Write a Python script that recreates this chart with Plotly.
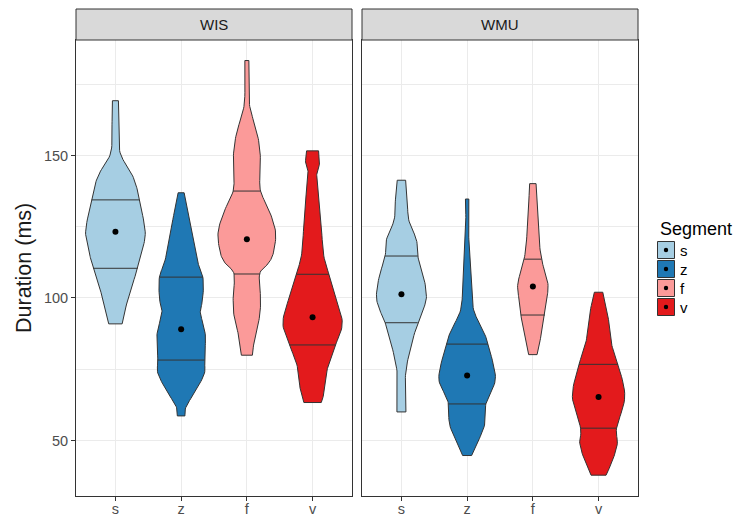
import numpy as np
import plotly.graph_objects as go

segments = ["s", "z", "f", "v"]
seg_colors = ["#A6CEE3", "#1F78B4", "#FB9A99", "#E31A1C"]
facets = ["WIS", "WMU"]

# Violin outlines: duration levels (ms) and relative half-widths
wis_s_y = [169.2, 160.0, 150.9, 143.9, 139.1, 134.4, 123.2, 115.7, 110.4, 99.9, 90.9]
wis_s_w = [3.0, 3.5, 4.7, 15.8, 21.0, 23.8, 29.8, 26.0, 22.2, 12.7, 6.7]
wis_z_y = [136.9, 125.0, 113.3, 107.3, 99.9, 95.2, 91.1, 86.4, 78.2, 73.6, 67.7, 61.9, 58.6]
wis_z_w = [3.0, 9.7, 16.0, 21.7, 21.7, 19.2, 21.7, 24.3, 23.3, 23.3, 15.0, 5.0, 3.8]
wis_f_y = [183.3, 169.5, 163.6, 157.9, 150.8, 143.7, 137.5, 129.8, 122.8, 115.8, 112.2, 108.4, 99.9, 93.4, 86.4, 79.9]
wis_f_w = [2.0, 2.2, 5.5, 10.3, 13.3, 13.2, 13.7, 23.3, 28.8, 26.5, 21.7, 12.8, 13.7, 12.7, 8.0, 5.5]
wis_v_y = [151.6, 147.3, 143.7, 139.1, 128.5, 115.7, 108.3, 99.9, 91.1, 83.5, 76.0, 67.7, 63.3]
wis_v_w = [6.0, 7.0, 4.2, 5.7, 8.3, 10.8, 16.3, 23.7, 29.7, 23.0, 15.3, 12.2, 8.7]

wmu_s_y = [141.3, 134.4, 127.4, 120.4, 114.7, 107.5, 100.5, 95.8, 91.3, 81.8, 73.6, 66.6, 60.0]
wmu_s_w = [4.2, 6.0, 7.3, 15.0, 16.3, 22.2, 25.0, 21.7, 16.3, 8.7, 4.2, 4.5, 4.5]
wmu_z_y = [134.7, 125.0, 115.7, 105.1, 95.8, 88.8, 83.8, 72.4, 66.6, 62.8, 56.0, 50.2, 44.7]
wmu_z_w = [1.7, 1.3, 2.5, 4.2, 6.5, 15.8, 20.8, 28.3, 23.0, 18.7, 17.8, 11.7, 4.5]
wmu_f_y = [140.1, 122.7, 113.6, 105.1, 99.3, 94.0, 86.4, 80.1]
wmu_f_w = [3.2, 5.8, 8.7, 15.0, 13.8, 12.0, 8.0, 4.2]
wmu_v_y = [102.0, 93.4, 84.1, 76.7, 65.4, 54.3, 49.0, 43.2, 37.8]
wmu_v_w = [4.2, 9.5, 12.8, 19.5, 26.2, 18.0, 18.8, 14.2, 7.5]

# Quartiles (25%, 75%) and means per segment
wis_q1 = [110.4, 78.2, 108.4, 83.5]
wis_q3 = [134.4, 107.3, 137.5, 108.3]
wis_mean = [123.2, 89.0, 120.6, 93.2]
wmu_q1 = [91.3, 62.8, 94.0, 54.3]
wmu_q3 = [114.7, 83.8, 113.6, 76.7]
wmu_mean = [101.3, 72.8, 104.0, 65.2]

y_ticks = [50, 100, 150]
y_minor = [75, 125, 175]

profiles = {
    "WIS": [(wis_s_y, wis_s_w), (wis_z_y, wis_z_w), (wis_f_y, wis_f_w), (wis_v_y, wis_v_w)],
    "WMU": [(wmu_s_y, wmu_s_w), (wmu_z_y, wmu_z_w), (wmu_f_y, wmu_f_w), (wmu_v_y, wmu_v_w)],
}
quart = {"WIS": (wis_q1, wis_q3, wis_mean), "WMU": (wmu_q1, wmu_q3, wmu_mean)}

W, H = 738, 517
PX_PER_UNIT = 276 / 4.2
OUTLINE = "#333333"
FONT = "Liberation Sans, Arial, Helvetica, sans-serif"


def catmull(ys, ws, n=10):
    P = np.column_stack([ys, ws]).astype(float)
    ext = np.vstack([P[0], P, P[-1]])
    out = []
    for i in range(1, len(ext) - 2):
        p0, p1, p2, p3 = ext[i - 1], ext[i], ext[i + 1], ext[i + 2]
        for t in np.linspace(0, 1, n, endpoint=False):
            t2, t3 = t * t, t * t * t
            out.append(0.5 * ((2 * p1) + (-p0 + p2) * t + (2 * p0 - 5 * p1 + 4 * p2 - p3) * t2
                              + (-p0 + 3 * p1 - 3 * p2 + p3) * t3))
    out.append(P[-1])
    a = np.array(out)
    return a[:, 0], np.maximum(a[:, 1], 0.5)


fig = go.Figure()
for fi, fac in enumerate(facets):
    xa = "x" if fi == 0 else "x2"
    ya = "y" if fi == 0 else "y2"
    q1s, q3s, means = quart[fac]
    for si, seg in enumerate(segments):
        c = si + 1
        ys, ws = catmull(*profiles[fac][si])
        hw = ws / PX_PER_UNIT
        px = np.concatenate([c + hw, (c - hw)[::-1], [c + hw[0]]])
        py = np.concatenate([ys, ys[::-1], [ys[0]]])
        fig.add_trace(go.Scatter(x=px, y=py, mode="lines", fill="toself", fillcolor=seg_colors[si],
                                 line=dict(color=OUTLINE, width=1), xaxis=xa, yaxis=ya,
                                 showlegend=False, hoverinfo="skip"))
        order = np.argsort(ys)
        for q in (q1s[si], q3s[si]):
            qw = np.interp(q, ys[order], hw[order])
            fig.add_trace(go.Scatter(x=[c - qw, c + qw], y=[q, q], mode="lines",
                                     line=dict(color=OUTLINE, width=1), xaxis=xa, yaxis=ya,
                                     showlegend=False, hoverinfo="skip"))
        fig.add_trace(go.Scatter(x=[c], y=[means[si]], mode="markers",
                                 marker=dict(color="black", size=6), xaxis=xa, yaxis=ya,
                                 showlegend=False, hoverinfo="skip"))

px2x = lambda p: p / W
px2y = lambda p: 1 - p / H
panel_x = [(76, 352), (362, 638)]
top, bottom, strip_top = 40, 496, 9

axis_common = dict(showline=True, mirror=True, linecolor=OUTLINE, linewidth=1, zeroline=False,
                   gridcolor="#EBEBEB", gridwidth=1, automargin=False)
tick_font = dict(size=14.5, color="#4D4D4D", family=FONT)
for fi in range(2):
    xd = [px2x(panel_x[fi][0]), px2x(panel_x[fi][1])]
    xkey = "xaxis" if fi == 0 else "xaxis2"
    ykey = "yaxis" if fi == 0 else "yaxis2"
    fig.update_layout(**{
        xkey: dict(domain=xd, range=[0.4, 4.6], tickvals=[1, 2, 3, 4], ticktext=segments,
                   ticks="outside", ticklen=4, tickcolor=OUTLINE, tickwidth=1,
                   ticklabelstandoff=-4,
                   tickfont=tick_font, anchor="y" if fi == 0 else "y2", **axis_common),
        ykey: dict(domain=[px2y(bottom), px2y(top)], range=[30.5, 190.5], tickvals=y_ticks,
                   ticktext=[str(v) for v in y_ticks],
                   minor=dict(tickvals=y_minor, showgrid=True, gridcolor="#EBEBEB", gridwidth=0.7, ticks=""),
                   ticks="outside" if fi == 0 else "", ticklen=4, tickcolor=OUTLINE, tickwidth=1,
                   showticklabels=(fi == 0), tickfont=tick_font,
                   anchor="x" if fi == 0 else "x2", **axis_common),
    })
    fig.add_shape(type="rect", xref="paper", yref="paper", x0=xd[0], x1=xd[1],
                  y0=px2y(top), y1=px2y(strip_top), fillcolor="#D9D9D9",
                  line=dict(color=OUTLINE, width=1), layer="above")
    fig.add_annotation(text=facets[fi], xref="paper", yref="paper", x=(xd[0] + xd[1]) / 2,
                       y=px2y((top + strip_top) / 2), xanchor="center", yanchor="middle",
                       showarrow=False, font=dict(size=15, color="#1A1A1A", family=FONT))

fig.update_layout(yaxis2=dict(matches="y"))

fig.add_annotation(text="Duration (ms)", xref="paper", yref="paper", x=px2x(24), y=px2y(268),
                   xanchor="center", yanchor="middle", textangle=-90, showarrow=False,
                   font=dict(size=21.5, color="#1A1A1A", family=FONT))

# legend
fig.add_annotation(text="Segment", xref="paper", yref="paper", x=px2x(658), y=px2y(229),
                   xanchor="left", yanchor="middle", showarrow=False,
                   font=dict(size=18, color="black", family=FONT))
for si, seg in enumerate(segments):
    cy = 250 + si * 19
    fig.add_shape(type="rect", xref="paper", yref="paper", x0=px2x(657.5), x1=px2x(674.5),
                  y0=px2y(cy + 8.5), y1=px2y(cy - 8.5), fillcolor=seg_colors[si],
                  line=dict(color=OUTLINE, width=1))
    fig.add_shape(type="circle", xref="paper", yref="paper", x0=px2x(663.8), x1=px2x(668.2),
                  y0=px2y(cy + 2.2), y1=px2y(cy - 2.2), fillcolor="black", line=dict(width=0))
    fig.add_annotation(text=seg, xref="paper", yref="paper", x=px2x(677.5), y=px2y(cy),
                       xanchor="left", yanchor="middle", showarrow=False,
                       font=dict(size=15, color="black", family=FONT))

fig.update_layout(width=W, height=H, margin=dict(l=0, r=0, t=0, b=0),
                  plot_bgcolor="white", paper_bgcolor="white", showlegend=False)
fig.write_html("out.html")
